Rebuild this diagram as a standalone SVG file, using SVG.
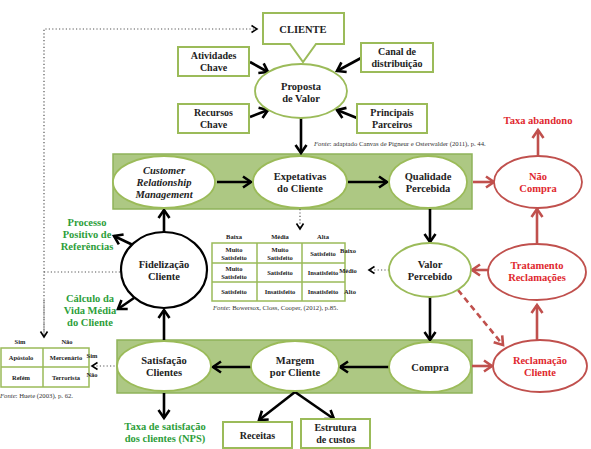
<svg xmlns="http://www.w3.org/2000/svg" width="591" height="449" viewBox="0 0 591 449">
<defs>
<marker id="ab" markerUnits="userSpaceOnUse" markerWidth="14" markerHeight="14" refX="10" refY="7" orient="auto"><path d="M2,1.5 L10,7 L2,12.5" fill="none" stroke="#000" stroke-width="2.6"/></marker>
<marker id="ar" markerUnits="userSpaceOnUse" markerWidth="14" markerHeight="14" refX="10" refY="7" orient="auto"><path d="M2,1.5 L10,7 L2,12.5" fill="none" stroke="#c0504d" stroke-width="2.6"/></marker>
<marker id="ad" markerUnits="userSpaceOnUse" markerWidth="10" markerHeight="10" refX="7" refY="5" orient="auto"><path d="M1.5,1.5 L7,5 L1.5,8.5" fill="none" stroke="#000" stroke-width="1.6"/></marker>
</defs>
<style>
text{font-family:"Liberation Serif","Times New Roman",serif;font-weight:bold;text-anchor:middle;fill:#222}
.n{font-size:10.5px}
.s{font-size:10px}
.r{fill:#e0282e;font-size:10.5px}
.g{fill:#2d9e3a;font-size:10.5px}
.t{font-size:6.5px}
.f{font-size:6.7px;font-weight:normal;text-anchor:start;fill:#333}
.box{fill:#fff;stroke:#9bbb59;stroke-width:2}
.ell{fill:#fff;stroke:#9bbb59;stroke-width:1.8}
.red{fill:#fff;stroke:#c0504d;stroke-width:1.8}
.band{fill:#adc883;stroke:#8fb35a;stroke-width:1.5}
.tb{fill:#fff;stroke:#9bbb59;stroke-width:1.5}
.k{stroke:#000;stroke-width:2.6;fill:none;marker-end:url(#ab)}
.kr{stroke:#c0504d;stroke-width:2.6;fill:none;marker-end:url(#ar)}
.d{stroke:#555;stroke-width:1.2;stroke-dasharray:1.2 2.2;fill:none}
</style>

<rect class="band" x="113" y="154" width="359" height="55"/>
<rect class="band" x="117" y="340" width="355" height="53"/>

<g id="connectors">
<path class="d" d="M120,272 H44"/>
<path class="d" d="M44,337 V29 H257" marker-end="url(#ad)"/>
<line class="d" x1="44" y1="300" x2="44" y2="337" marker-end="url(#ad)"/>
<line class="k" x1="250" y1="62" x2="268" y2="72"/>
<line class="k" x1="250" y1="117" x2="268" y2="110"/>
<line class="k" x1="361" y1="58" x2="337" y2="71"/>
<line class="k" x1="357" y1="118" x2="337" y2="110"/>
<line class="k" x1="301" y1="118" x2="301" y2="153"/>
<line class="k" x1="217" y1="182" x2="251" y2="182"/>
<line class="k" x1="348" y1="182" x2="387" y2="182"/>
<line class="k" x1="430" y1="209" x2="430" y2="242"/>
<line class="k" x1="430" y1="297" x2="430" y2="340"/>
<line class="k" x1="389" y1="367" x2="340" y2="367"/>
<line class="k" x1="251" y1="367" x2="213" y2="367"/>
<line class="k" x1="164" y1="340" x2="164" y2="310"/>
<line class="k" x1="164" y1="393" x2="164" y2="418"/>
<line class="k" x1="164" y1="232" x2="164" y2="210"/>
<line class="k" x1="135" y1="246" x2="114" y2="236"/>
<line class="k" x1="134" y1="298" x2="118" y2="309"/>
<line class="k" x1="295" y1="392" x2="259" y2="420"/>
<line class="k" x1="295" y1="392" x2="334" y2="419"/>
<line class="kr" x1="473" y1="182" x2="494" y2="182"/>
<line class="kr" x1="538" y1="155" x2="538" y2="130"/>
<line class="kr" x1="488" y1="270" x2="472" y2="270"/>
<line class="kr" x1="537" y1="243" x2="537" y2="209"/>
<line class="kr" x1="537" y1="340" x2="537" y2="305"/>
<line class="kr" x1="472" y1="366" x2="492" y2="366"/>
<line class="kr" x1="458" y1="290" x2="503" y2="345" stroke-dasharray="6 4"/>
<line class="d" x1="389" y1="270" x2="369" y2="270" marker-end="url(#ad)"/>
<line class="d" x1="300" y1="209" x2="300" y2="229" marker-end="url(#ad)"/>
<line class="d" x1="118" y1="366" x2="92" y2="366" marker-end="url(#ad)"/>
</g>

<g id="cliente">
<path class="box" d="M263,13 H344 V44 H316 L303,62 L290,44 H263 Z"/>
<text class="n" x="303" y="33">CLIENTE</text>
</g>
<g id="atividades">
<rect class="box" x="178" y="47" width="71" height="29"/>
<text class="s" x="213.5" y="59">Atividades</text><text class="s" x="213.5" y="71">Chave</text>
</g>
<g id="recursos">
<rect class="box" x="178" y="104" width="71" height="29"/>
<text class="s" x="213.5" y="116">Recursos</text><text class="s" x="213.5" y="128">Chave</text>
</g>
<g id="canal">
<rect class="box" x="361" y="43" width="72" height="29"/>
<text class="s" x="397" y="55">Canal de</text><text class="s" x="397" y="67">distribuição</text>
</g>
<g id="parceiros">
<rect class="box" x="357" y="104" width="70" height="29"/>
<text class="s" x="392" y="116">Principais</text><text class="s" x="392" y="128">Parceiros</text>
</g>
<g id="proposta">
<ellipse class="ell" cx="301" cy="91" rx="46" ry="27"/>
<text class="n" x="301" y="90">Proposta</text><text class="n" x="301" y="102">de Valor</text>
</g>
<text class="f" x="314" y="146"><tspan font-style="italic">Fonte</tspan>: adaptado Canvas de  Pigneur e Osterwalder (2011), p. 44.</text>

<g id="crm">
<ellipse class="ell" cx="164" cy="182" rx="51" ry="26"/>
<text class="n" x="164" y="174" font-style="italic">Customer</text>
<text class="n" x="164" y="186" font-style="italic">Relationship</text>
<text class="n" x="164" y="198" font-style="italic">Management</text>
</g>
<g id="expetativas">
<ellipse class="ell" cx="300" cy="182" rx="47" ry="26"/>
<text class="n" x="300" y="180">Expetativas</text><text class="n" x="300" y="192">do Cliente</text>
</g>
<g id="qualidade">
<ellipse class="ell" cx="428" cy="182" rx="39" ry="26"/>
<text class="n" x="428" y="180">Qualidade</text><text class="n" x="428" y="192">Percebida</text>
</g>
<g id="naocompra">
<ellipse class="red" cx="538" cy="182" rx="44" ry="26"/>
<text class="r" x="538" y="180">Não</text><text class="r" x="538" y="192">Compra</text>
</g>
<text class="r" x="538" y="124">Taxa abandono</text>

<g id="valor">
<ellipse class="ell" cx="430" cy="270" rx="41" ry="27"/>
<text class="n" x="430" y="268">Valor</text><text class="n" x="430" y="280">Percebido</text>
</g>
<g id="tratamento">
<ellipse class="red" cx="537" cy="272" rx="49" ry="28"/>
<text class="r" x="537" y="269">Tratamento</text><text class="r" x="537" y="281">Reclamações</text>
</g>
<g id="reclamacao">
<ellipse class="red" cx="540" cy="366" rx="47" ry="26"/>
<text class="r" x="540" y="364">Reclamação</text><text class="r" x="540" y="376">Cliente</text>
</g>

<g id="compra">
<ellipse class="ell" cx="430" cy="367" rx="41" ry="25"/>
<text class="n" x="430" y="371">Compra</text>
</g>
<g id="margem">
<ellipse class="ell" cx="295" cy="366" rx="44" ry="25"/>
<text class="n" x="295" y="364">Margem</text><text class="n" x="295" y="376">por Cliente</text>
</g>
<g id="satisfacao">
<ellipse class="ell" cx="164" cy="366" rx="47" ry="25"/>
<text class="n" x="164" y="364">Satisfação</text><text class="n" x="164" y="376">Clientes</text>
</g>
<text class="g" x="165" y="430">Taxa de satisfação</text>
<text class="g" x="165" y="442">dos clientes (NPS)</text>

<g id="receitas">
<rect class="box" x="223" y="422" width="69" height="26"/>
<text class="s" x="257.5" y="439">Receitas</text>
</g>
<g id="estrutura">
<rect class="box" x="301" y="419" width="69" height="29"/>
<text class="s" x="335.5" y="431">Estrutura</text><text class="s" x="335.5" y="443">de custos</text>
</g>

<g id="fidelizacao">
<ellipse cx="164" cy="270" rx="43" ry="38" fill="#fff" stroke="#000" stroke-width="2.2"/>
<text class="n" x="164" y="268">Fidelização</text><text class="n" x="164" y="280">Cliente</text>
</g>
<text class="g" x="87" y="226">Processo</text>
<text class="g" x="87" y="238">Positivo de</text>
<text class="g" x="87" y="250">Referências</text>
<text class="g" x="90" y="302">Cálculo da</text>
<text class="g" x="90" y="314">Vida Média</text>
<text class="g" x="90" y="326">do Cliente</text>

<g id="tabela-bowersox">
<rect class="tb" x="212" y="243" width="133" height="58"/>
<path d="M212,263 H345 M212,282 H345 M257,243 V301 M302,243 V301" stroke="#9bbb59" stroke-width="1.5" fill="none"/>
<text class="t" x="234" y="239">Baixa</text><text class="t" x="280" y="239">Média</text><text class="t" x="323" y="239">Alta</text>
<text class="t" x="234" y="252">Muito</text><text class="t" x="234" y="260">Satisfeito</text>
<text class="t" x="280" y="252">Muito</text><text class="t" x="280" y="260">Satisfeito</text>
<text class="t" x="323" y="256">Satisfeito</text>
<text class="t" x="234" y="271">Muito</text><text class="t" x="234" y="279">Satisfeito</text>
<text class="t" x="280" y="275">Satisfeito</text>
<text class="t" x="323" y="275">Insatisfeito</text>
<text class="t" x="234" y="294">Satisfeito</text>
<text class="t" x="280" y="294">Insatisfeito</text>
<text class="t" x="323" y="294">Insatisfeito</text>
<text class="t" x="348" y="253" text-anchor="start">Baixo</text>
<text class="t" x="348" y="273" text-anchor="start">Médio</text>
<text class="t" x="350" y="294" text-anchor="start">Alto</text>
</g>
<text class="f" x="213" y="310"><tspan font-style="italic">Fonte</tspan>: Bowersox, Closs, Cooper, (2012), p.85.</text>

<g id="tabela-huete">
<rect class="tb" x="1" y="348" width="88" height="39"/>
<path d="M43,348 V387 M1,367 H89" stroke="#9bbb59" stroke-width="1.5" fill="none"/>
<text class="t" x="20" y="344">Sim</text><text class="t" x="67" y="344">Não</text>
<text class="t" x="21" y="360">Apóstolo</text><text class="t" x="66" y="360">Mercenário</text>
<text class="t" x="21" y="380">Refém</text><text class="t" x="66" y="380">Terrorista</text>
<text class="t" x="92" y="358" text-anchor="start">Sim</text>
<text class="t" x="92" y="377" text-anchor="start">Não</text>
</g>
<text class="f" x="0" y="398"><tspan font-style="italic">Fonte</tspan>: Huete (2003), p. 62.</text>
</svg>
